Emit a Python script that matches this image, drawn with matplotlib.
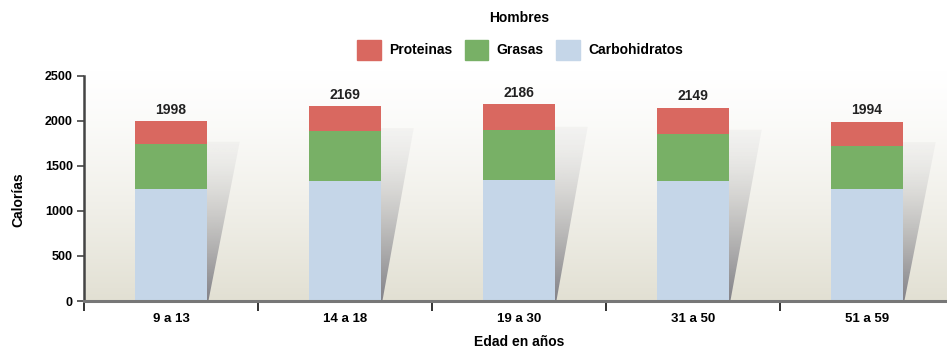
import matplotlib
matplotlib.use("Agg")
import matplotlib.pyplot as plt
import numpy as np
from matplotlib.patches import Patch, Polygon

plt.rcParams['font.family'] = ['Liberation Sans', 'DejaVu Sans']

# Calorie intake by age group (men)
categorias = ["9 a 13", "14 a 18", "19 a 30", "31 a 50", "51 a 59"]
carbohidratos = [1249, 1335, 1340, 1335, 1245]
grasas = [500, 555, 560, 515, 480]
proteinas = [249, 279, 286, 299, 269]
totales = [1998, 2169, 2186, 2149, 1994]

c_prot = "#d96860"
c_gras = "#78b066"
c_carb = "#c5d6e8"

fig = plt.figure(figsize=(9.47, 3.5), dpi=100)
ax = fig.add_axes([84 / 947, 49 / 350, 1 - 84 / 947, 230 / 350])

x = np.arange(len(categorias))
ymax = 2555
x0, x1 = -0.5, 4.46

# background: white at the top fading to a beige grey at the bottom
grad = np.linspace(0, 1, 256)[:, None]
top = np.array([1.0, 1.0, 1.0])
bottom = np.array([0.886, 0.878, 0.827])
bg = top + (bottom - top) * grad ** 1.3
bg = np.repeat(bg[:, None, :], 2, axis=1)
ax.imshow(bg, extent=[x0, x1, 0, ymax], aspect="auto", zorder=0)

# shadows behind the bars
w = 0.41
for xi, t in zip(x, totales):
    xr = xi + w / 2
    h = 0.885 * t
    poly = Polygon([(xr, 0), (xr, h), (xr + 0.19, h), (xr + 0.01, 0)],
                   closed=True, facecolor="none", edgecolor="none")
    ax.add_patch(poly)
    g = np.linspace(0, 1, 200)[:, None]
    a = 0.05 + (g ** 1.6) * 0.72
    img = np.zeros((200, 2, 4))
    img[..., 0] = 0.40
    img[..., 1] = 0.40
    img[..., 2] = 0.45
    img[..., 3] = np.repeat(a, 2, axis=1)
    im = ax.imshow(img, extent=[xr, xr + 0.19, 0, h], aspect="auto", zorder=1)
    im.set_clip_path(poly)

ax.bar(x, carbohidratos, w, color=c_carb, zorder=2)
ax.bar(x, grasas, w, bottom=carbohidratos, color=c_gras, zorder=2)
base = np.array(carbohidratos) + np.array(grasas)
ax.bar(x, proteinas, w, bottom=base, color=c_prot, zorder=2)

for xi, t in zip(x, totales):
    ax.text(xi, t + 45, str(t), ha="center", va="bottom",
            fontsize=10, fontweight="bold", color="#222222")

ax.set_xlim(x0, x1)
ax.set_ylim(0, ymax)

# axes styling
for s in ["top", "right"]:
    ax.spines[s].set_visible(False)
ax.spines["left"].set_bounds(0, 2500)
ax.spines["left"].set_linewidth(1.8)
ax.spines["left"].set_color("#444444")
ax.spines["bottom"].set_linewidth(2.2)
ax.spines["bottom"].set_color("#777777")

ax.set_yticks([0, 500, 1000, 1500, 2000, 2500])
ax.tick_params(axis="y", length=5, width=1.2, color="#444444",
               labelsize=9, pad=3)
ax.set_xticks(np.arange(-0.5, 4.5, 1.0))
ax.set_xticklabels([])
ax.set_xticks(x, minor=True)
ax.set_xticklabels(categorias, minor=True, fontsize=9.5, fontweight="bold")
ax.tick_params(axis="x", which="major", length=7, width=1.4,
               color="#333333")
ax.tick_params(axis="x", which="minor", length=0, pad=9)
for lbl in ax.get_yticklabels():
    lbl.set_fontweight("bold")

fig.text(18 / 947, 1 - 200 / 350, "Calorías", rotation=90, ha="center",
         va="center", fontsize=10, fontweight="bold")
fig.text(519 / 947, 1 - 342 / 350, "Edad en años", ha="center",
         va="center", fontsize=10, fontweight="bold")
fig.text(519 / 947, 1 - 18 / 350, "Hombres", ha="center", va="center",
         fontsize=10, fontweight="bold")

handles = [Patch(color=c_prot, label="Proteinas"),
           Patch(color=c_gras, label="Grasas"),
           Patch(color=c_carb, label="Carbohidratos")]
fig.legend(handles=handles, loc="center", bbox_to_anchor=(520 / 947, 1 - 50 / 350),
           ncol=3, frameon=False,
           prop={"weight": "bold", "size": 10},
           handlelength=1.7, handleheight=1.9, handletextpad=0.6,
           columnspacing=0.9)

plt.savefig("out.png", dpi=100)
